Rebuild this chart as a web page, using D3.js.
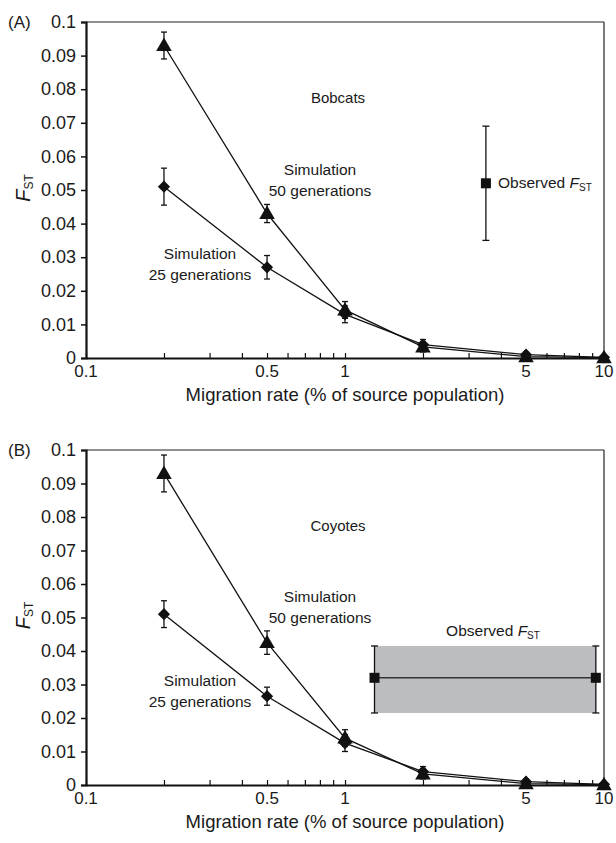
<!DOCTYPE html>
<html>
<head>
<meta charset="utf-8">
<script src="https://cdn.jsdelivr.net/npm/d3@7"></script>
<style>
  body { margin: 0; background: #fff; }
  text { font-family: "Liberation Sans", Arial, sans-serif; fill: #1a1a1a; }
</style>
</head>
<body>
<div id="chart"></div>
<script>
// migration rates (% of source population)
const migration = [0.2, 0.5, 1, 2, 5, 10];

// Bobcats
const bob50 = [0.093, 0.043, 0.0143, 0.0033, 0.0004, 0.0001];
const bob50Err = [0.004, 0.0027, 0.0025, 0.0015, 0.0008, 0.0005];
const bob25 = [0.051, 0.027, 0.013, 0.004, 0.001, 0.0002];
const bob25Err = [0.0055, 0.0035, 0.0025, 0.0015, 0.0008, 0.0005];
const bobObsX = [3.5];
const bobObs = [0.052];
const bobObsLo = [0.035];
const bobObsHi = [0.069];

// Coyotes
const coy50 = [0.093, 0.0425, 0.014, 0.0033, 0.0004, 0.0001];
const coy50Err = [0.0055, 0.0035, 0.0025, 0.0015, 0.0008, 0.0005];
const coy25 = [0.051, 0.0265, 0.0125, 0.004, 0.001, 0.0002];
const coy25Err = [0.004, 0.0027, 0.0025, 0.0015, 0.0008, 0.0005];
const coyObsX = [1.3, 9.3];
const coyObs = [0.032, 0.032];
const coyObsLo = [0.0215, 0.0215];
const coyObsHi = [0.0415, 0.0415];

const yTicks = [0, 0.01, 0.02, 0.03, 0.04, 0.05, 0.06, 0.07, 0.08, 0.09, 0.1];
const yTickLabels = ["0", "0.01", "0.02", "0.03", "0.04", "0.05", "0.06", "0.07", "0.08", "0.09", "0.1"];
const xLabelTicks = [0.1, 0.5, 1, 5, 10];

const svg = d3.select("#chart").append("svg")
    .attr("width", 616)
    .attr("height", 843);

const x = d3.scaleLog().domain([0.1, 10]).range([86, 604]);

function fstLabel(sel, size) {
    sel.append("tspan").attr("font-style", "italic").text("F");
    sel.append("tspan").attr("font-size", size).attr("dy", 3).text("ST");
}

function drawPanel(cfg) {
    const y = d3.scaleLinear().domain([0, 0.1]).range([cfg.bottom, cfg.top]);
    const g = svg.append("g");

    // observed band (coyotes)
    if (cfg.band) {
        g.append("rect")
            .attr("x", x(cfg.obsX[0]))
            .attr("y", y(cfg.obsHi[0]))
            .attr("width", x(cfg.obsX[1]) - x(cfg.obsX[0]))
            .attr("height", y(cfg.obsLo[0]) - y(cfg.obsHi[0]))
            .attr("fill", "#bcbdc0");
        g.append("line")
            .attr("x1", x(cfg.obsX[0])).attr("x2", x(cfg.obsX[1]))
            .attr("y1", y(cfg.obs[0])).attr("y2", y(cfg.obs[1]))
            .attr("stroke", "#333").attr("stroke-width", 1.5);
    }

    // frame: top and right thin
    g.append("line").attr("x1", 86).attr("x2", 604).attr("y1", cfg.top).attr("y2", cfg.top)
        .attr("stroke", "#222").attr("stroke-width", 1.2);
    g.append("line").attr("x1", 604).attr("x2", 604).attr("y1", cfg.top).attr("y2", cfg.bottom)
        .attr("stroke", "#222").attr("stroke-width", 1.2);

    // y axis
    const yAxis = d3.axisLeft(y).tickValues(yTicks)
        .tickFormat((d, i) => yTickLabels[i]).tickSize(5).tickPadding(5);
    const ya = g.append("g").attr("transform", "translate(86,0)").call(yAxis);
    ya.select(".domain").attr("stroke-width", 2.2).attr("stroke", "#111");
    ya.selectAll(".tick line").attr("stroke-width", 1.5).attr("stroke", "#111");
    ya.selectAll("text").attr("font-size", 18).attr("font-family", "Liberation Sans, Arial, sans-serif");

    // x axis: minor ticks pointing inward
    const minor = [];
    [0.1, 1].forEach(b => { for (let k = 1; k <= 9; k++) minor.push(b * k); });
    minor.push(10);
    const xAxis = d3.axisTop(x).tickValues(minor).tickFormat("").tickSize(5).tickSizeOuter(0);
    const xa = g.append("g").attr("transform", `translate(0,${cfg.bottom})`).call(xAxis);
    xa.select(".domain").attr("stroke-width", 2.2).attr("stroke", "#111");
    xa.selectAll(".tick line").attr("stroke-width", 1.2).attr("stroke", "#111");

    g.selectAll(".xlab").data(xLabelTicks).enter().append("text")
        .attr("x", d => x(d)).attr("y", cfg.bottom + 19)
        .attr("text-anchor", "middle").attr("font-size", 17)
        .text(d => d);

    g.append("text").attr("x", 345).attr("y", cfg.bottom + 43)
        .attr("text-anchor", "middle").attr("font-size", 18.5)
        .text("Migration rate (% of source population)");

    // y title
    const yt = g.append("text")
        .attr("transform", `translate(30,${(cfg.top + cfg.bottom) / 2 - 2}) rotate(-90)`)
        .attr("text-anchor", "middle").attr("font-size", 20);
    fstLabel(yt, 12);

    // panel tag
    g.append("text").attr("x", 8).attr("y", cfg.top + 6).attr("font-size", 17).text(cfg.tag);

    // series lines
    const line = d3.line().x(d => x(d[0])).y(d => y(d[1]));
    [cfg.s50, cfg.s25].forEach(s => {
        g.append("path").datum(migration.map((m, i) => [m, s[i]]))
            .attr("d", line).attr("fill", "none")
            .attr("stroke", "#111").attr("stroke-width", 1.3);
    });

    // error bars
    function errBars(vals, errs) {
        migration.forEach((m, i) => {
            const cx = x(m);
            const y1 = y(vals[i] + errs[i]), y2 = y(Math.max(0, vals[i] - errs[i]));
            g.append("line").attr("x1", cx).attr("x2", cx).attr("y1", y1).attr("y2", y2)
                .attr("stroke", "#111").attr("stroke-width", 1.3);
            [y1, y2].forEach(yy => g.append("line")
                .attr("x1", cx - 3).attr("x2", cx + 3).attr("y1", yy).attr("y2", yy)
                .attr("stroke", "#111").attr("stroke-width", 1.3));
        });
    }
    errBars(cfg.s25, cfg.e25);
    errBars(cfg.s50, cfg.e50);

    // markers
    g.selectAll(".dia").data(migration).enter().append("path")
        .attr("transform", (d, i) => `translate(${x(d)},${y(cfg.s25[i])})`)
        .attr("d", d3.symbol(d3.symbolDiamond2, 95)())
        .attr("fill", "#111");
    g.selectAll(".tri").data(migration).enter().append("path")
        .attr("transform", (d, i) => `translate(${x(d)},${y(cfg.s50[i]) + 1})`)
        .attr("d", d3.symbol(d3.symbolTriangle, 105)())
        .attr("fill", "#111");

    // observed error bars + squares
    cfg.obsX.forEach((ox, i) => {
        const cx = x(ox);
        const y1 = y(cfg.obsHi[i]), y2 = y(cfg.obsLo[i]);
        g.append("line").attr("x1", cx).attr("x2", cx).attr("y1", y1).attr("y2", y2)
            .attr("stroke", "#111").attr("stroke-width", 1.3);
        [y1, y2].forEach(yy => g.append("line")
            .attr("x1", cx - 3.5).attr("x2", cx + 3.5).attr("y1", yy).attr("y2", yy)
            .attr("stroke", "#111").attr("stroke-width", 1.3));
        g.append("rect").attr("x", cx - 5).attr("y", y(cfg.obs[i]) - 5)
            .attr("width", 10).attr("height", 10).attr("fill", "#111");
    });

    // annotations
    g.append("text").attr("x", 338).attr("y", cfg.top + 81)
        .attr("text-anchor", "middle").attr("font-size", 15).text(cfg.name);
    const a50 = g.append("text").attr("text-anchor", "middle").attr("font-size", 15.5);
    a50.append("tspan").attr("x", 320).attr("y", y(cfg.l50)).text("Simulation");
    a50.append("tspan").attr("x", 320).attr("dy", 21).text("50 generations");
    const a25 = g.append("text").attr("text-anchor", "middle").attr("font-size", 15.5);
    a25.append("tspan").attr("x", 200).attr("y", y(cfg.l25)).text("Simulation");
    a25.append("tspan").attr("x", 200).attr("dy", 21).text("25 generations");

    const ot = g.append("text").attr("x", cfg.obsLabel[0]).attr("y", y(cfg.obsLabel[1]))
        .attr("text-anchor", cfg.obsLabel[2]).attr("font-size", 15.5);
    ot.append("tspan").text("Observed ");
    fstLabel(ot, 10);
}

drawPanel({
    tag: "(A)", name: "Bobcats", top: 22, bottom: 358,
    s50: bob50, e50: bob50Err, s25: bob25, e25: bob25Err,
    obsX: bobObsX, obs: bobObs, obsLo: bobObsLo, obsHi: bobObsHi, band: false,
    l50: 0.0545, l25: 0.0295, obsLabel: [498, 0.0505, "start"]
});
drawPanel({
    tag: "(B)", name: "Coyotes", top: 450, bottom: 785,
    s50: coy50, e50: coy50Err, s25: coy25, e25: coy25Err,
    obsX: coyObsX, obs: coyObs, obsLo: coyObsLo, obsHi: coyObsHi, band: true,
    l50: 0.0545, l25: 0.0295, obsLabel: [493, 0.0445, "middle"]
});
</script>
</body>
</html>
